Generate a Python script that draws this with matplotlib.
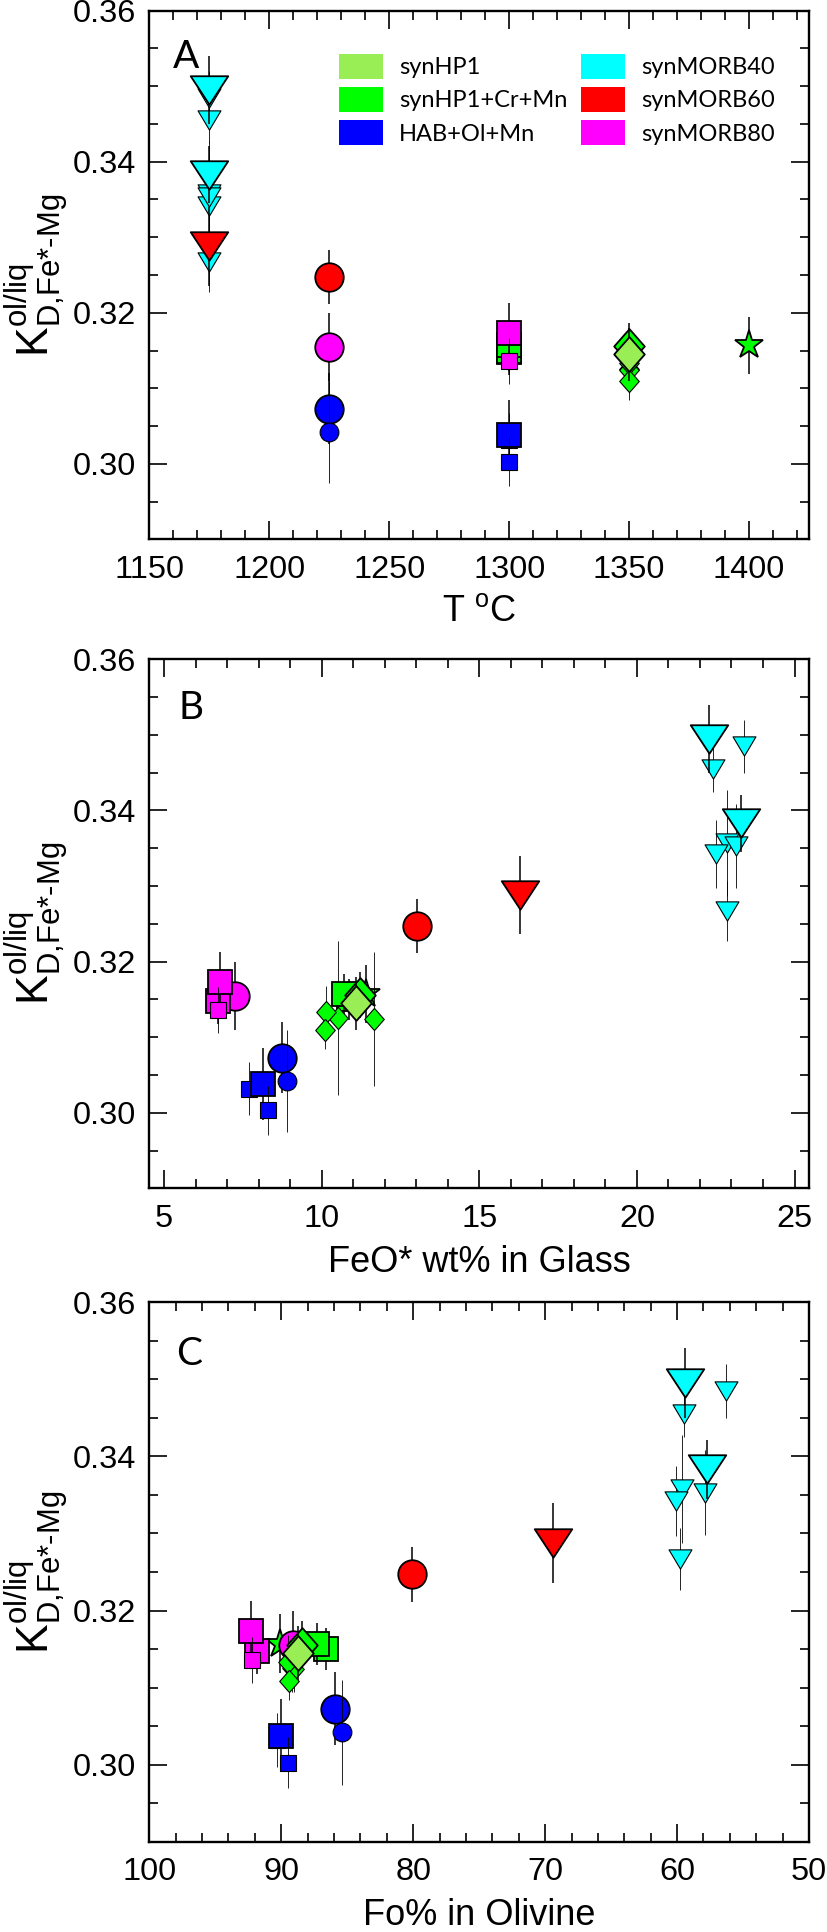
import matplotlib
matplotlib.use('Agg')
import matplotlib.pyplot as plt
from matplotlib.path import Path
from matplotlib.patches import Patch
from matplotlib.ticker import MultipleLocator

plt.rcParams['font.family'] = ['Liberation Sans', 'DejaVu Sans']
plt.rcParams['mathtext.fontset'] = 'custom'
plt.rcParams['mathtext.rm'] = 'Liberation Sans'
plt.rcParams['mathtext.it'] = 'Liberation Sans:italic'
plt.rcParams['mathtext.bf'] = 'Liberation Sans:bold'

# ---------------- data ----------------
legend_labels_col1 = ['synHP1', 'synHP1+Cr+Mn', 'HAB+Ol+Mn']
legend_labels_col2 = ['synMORB40', 'synMORB60', 'synMORB80']
color_hp1 = '#99EE55'
color_hp1crmn = '#00FF00'
color_hab = '#0000FF'
color_m40 = '#00FFFF'
color_m60 = '#FF0000'
color_m80 = '#FF00FF'

# synMORB40
m40_T = [1175, 1175, 1175, 1175, 1175, 1175, 1175, 1175]
m40_feo = [22.4, 23.4, 22.85, 22.5, 23.15, 22.85, 22.3, 23.3]
m40_fo = [59.5, 56.3, 59.6, 60.1, 57.9, 59.8, 59.4, 57.7]
m40_kd = [0.3455, 0.3485, 0.3357, 0.3342, 0.3353, 0.3267, 0.3495, 0.3383]
m40_err = [0.0030, 0.0035, 0.0070, 0.0045, 0.0055, 0.0040, 0.0045, 0.0038]
m40_err_glass = m40_err

# synMORB60
m60_T = [1175, 1225]
m60_feo = [16.3, 13.03]
m60_fo = [69.4, 80.1]
m60_kd = [0.3288, 0.3247]
m60_err = [0.0052, 0.0036]
m60_err_glass = m60_err

# HAB+Ol+Mn
hab_T = [1225, 1225, 1300, 1300, 1300]
hab_feo = [8.73, 8.9, 7.7, 8.13, 8.3]
hab_fo = [85.9, 85.4, 90.3, 90.0, 89.5]
hab_kd = [0.3073, 0.3042, 0.3032, 0.3038, 0.3003]
hab_err = [0.0047, 0.0068, 0.0035, 0.0047, 0.0033]
hab_err_glass = hab_err

# synHP1+Cr+Mn
crmn_T = [1400, 1300, 1300, 1350, 1350, 1350, 1350, 1350]
crmn_feo = [11.4, 10.85, 10.72, 10.52, 11.65, 10.15, 10.1, 11.2]
crmn_fo = [90.1, 86.6, 87.3, 89.2, 89.0, 89.5, 89.4, 88.4]
crmn_kd = [0.3157, 0.3150, 0.3157, 0.3125, 0.3124, 0.3133, 0.3109, 0.3156]
crmn_err = [0.0038, 0.0027, 0.0027, 0.0030, 0.0030, 0.0035, 0.0025, 0.0030]
crmn_err_glass = [0.0038, 0.0027, 0.0027, 0.0102, 0.0089, 0.0035, 0.0025, 0.0030]

# synHP1
hp1_T = [1350]
hp1_feo = [11.1]
hp1_fo = [88.7]
hp1_kd = [0.3145]
hp1_err = [0.0035]
hp1_err_glass = hp1_err

# synMORB80
m80_T = [1225, 1300, 1300, 1300]
m80_feo = [7.26, 6.7, 6.76, 6.72]
m80_fo = [89.1, 91.8, 92.3, 92.2]
m80_kd = [0.3155, 0.3148, 0.3173, 0.3136]
m80_err = [0.0045, 0.0030, 0.0040, 0.0030]
m80_err_glass = m80_err

# ---------------- styles ----------------
def tri_path(h):
    v = [(-1, h), (1, h), (0, -h), (-1, h)]
    return Path(v, closed=True)

def dia_path(w):
    v = [(0, 1), (w, 0), (0, -1), (-w, 0), (0, 1)]
    return Path(v, closed=True)

TRI_L = tri_path(0.76)
TRI_S = tri_path(0.84)
DIA = dia_path(0.88)

shape = {
    ('tri', 'L'): (TRI_L, 27), ('tri', 'S'): (TRI_S, 16.5),
    ('o', 'L'): ('o', 20.5), ('o', 'S'): ('o', 13.5),
    ('s', 'L'): ('s', 17.5), ('s', 'S'): ('s', 12),
    ('d', 'L'): (DIA, 25), ('d', 'S'): (DIA, 16),
    ('*', 'L'): ('*', 21),
}

series = [
    dict(T=m40_T, feo=m40_feo, fo=m40_fo, kd=m40_kd, err=m40_err, errg=m40_err_glass, color=color_m40,
         mk=['tri'] * 8, sz=['S'] * 6 + ['L'] * 2, layer=[1] * 6 + [2] * 2),
    dict(T=m60_T, feo=m60_feo, fo=m60_fo, kd=m60_kd, err=m60_err, errg=m60_err_glass, color=color_m60,
         mk=['tri', 'o'], sz=['L', 'L'], layer=[3, 3]),
    dict(T=hab_T, feo=hab_feo, fo=hab_fo, kd=hab_kd, err=hab_err, errg=hab_err_glass, color=color_hab,
         mk=['o', 'o', 's', 's', 's'], sz=['L', 'S', 'S', 'L', 'S'], layer=[3, 3.5, 3, 3.5, 4]),
    dict(T=crmn_T, feo=crmn_feo, fo=crmn_fo, kd=crmn_kd, err=crmn_err, errg=crmn_err_glass, color=color_hp1crmn,
         mk=['*', 's', 's', 'd', 'd', 'd', 'd', 'd'], sz=['L', 'L', 'L', 'S', 'S', 'S', 'S', 'L'],
         layer=[4, 6, 6.5, 6, 6, 6, 6, 7]),
    dict(T=m80_T, feo=m80_feo, fo=m80_fo, kd=m80_kd, err=m80_err, errg=m80_err_glass, color=color_m80,
         mk=['o', 's', 's', 's'], sz=['L', 'L', 'L', 'S'], layer=[5, 5, 9, 10]),
    dict(T=hp1_T, feo=hp1_feo, fo=hp1_fo, kd=hp1_kd, err=hp1_err, errg=hp1_err_glass, color=color_hp1,
         mk=['d'], sz=['L'], layer=[8]),
]

TICK_FS = 23.4
LABEL_FS = 26
YLABEL = r'$\mathregular{K^{ol/liq}_{\text{D,Fe*-Mg}}}$'

fig = plt.figure(figsize=(8.27, 19.32), dpi=100)
W, H = 827.0, 1932.0
def add_ax(top_px, bot_px):
    return fig.add_axes([149.3 / W, 1 - bot_px / H, (809 - 149.3) / W, (bot_px - top_px) / H])

axA = add_ax(10.7, 539.3)
axB = add_ax(659.3, 1188.3)
axC = add_ax(1302.0, 1842.0)

def plot_panel(ax, xkey, errkey):
    for s in series:
        for i in range(len(s['kd'])):
            m, ms = shape[(s['mk'][i], s['sz'][i])]
            big = s['sz'][i] == 'L'
            z = 2 + s['layer'][i]
            x = s[xkey][i]
            y = s['kd'][i]
            ax.errorbar([x], [y], yerr=[s[errkey][i]], fmt='none', ecolor='k',
                        elinewidth=1.1 if big else 0.6, capsize=0, zorder=z)
            ax.plot([x], [y], linestyle='none', marker=m, markersize=ms,
                    markerfacecolor=s['color'], markeredgecolor='k',
                    markeredgewidth=1.3 if big else 0.8, zorder=z + 0.3)

def style_axis(ax, xmaj, xmin):
    ax.set_ylim(0.29, 0.36)
    ax.yaxis.set_major_locator(MultipleLocator(0.02))
    ax.yaxis.set_minor_locator(MultipleLocator(0.005))
    ax.xaxis.set_major_locator(MultipleLocator(xmaj))
    ax.xaxis.set_minor_locator(MultipleLocator(xmin))
    ax.yaxis.set_major_formatter(plt.FormatStrFormatter('%.2f'))
    ax.tick_params(which='both', direction='in', top=True, right=True)
    ax.tick_params(which='major', length=12.7, width=1.2, labelsize=TICK_FS)
    ax.tick_params(which='minor', length=6.7, width=1.2)
    ax.tick_params(axis='x', which='major', pad=11)
    ax.tick_params(axis='y', which='major', pad=9.5)
    for sp in ax.spines.values():
        sp.set_linewidth(1.7)
    ax.set_ylabel(YLABEL, fontsize=32, labelpad=1)

# Panel A
plot_panel(axA, 'T', 'err')
axA.set_xlim(1150, 1425)
style_axis(axA, 50, 10)
axA.xaxis.set_major_formatter(plt.FormatStrFormatter('%d'))
axA.set_xlabel(r'T $\mathregular{^{o}}$C', fontsize=LABEL_FS, labelpad=7)
axA.text(0.0355, 0.8916, 'A', transform=axA.transAxes, fontsize=28, family=['Lato', 'DejaVu Sans'],
         va='baseline', ha='left')

h1 = [Patch(facecolor=c, edgecolor='none') for c in [color_hp1, color_hp1crmn, color_hab]]
h2 = [Patch(facecolor=c, edgecolor='none') for c in [color_m40, color_m60, color_m80]]
leg_kw = dict(frameon=False, borderpad=0, borderaxespad=0, loc='upper left',
              prop={'family': ['Lato', 'DejaVu Sans'], 'size': 17},
              handlelength=1.86, handleheight=1.23, labelspacing=0.36, handletextpad=0.68)
leg1 = axA.legend(h1, legend_labels_col1, bbox_to_anchor=(0.2876, 0.918), **leg_kw)
axA.add_artist(leg1)
axA.legend(h2, legend_labels_col2, bbox_to_anchor=(0.6544, 0.918), **leg_kw)

# Panel B
plot_panel(axB, 'feo', 'errg')
axB.set_xlim(4.53, 25.46)
style_axis(axB, 5, 1)
axB.xaxis.set_major_formatter(plt.FormatStrFormatter('%d'))
axB.set_xlabel('FeO* wt% in Glass', fontsize=LABEL_FS, labelpad=8)
axB.text(0.044, 0.8866, 'B', transform=axB.transAxes, fontsize=28, family=['Lato', 'DejaVu Sans'],
         va='baseline', ha='left')

# Panel C
plot_panel(axC, 'fo', 'err')
axC.set_xlim(100, 50)
style_axis(axC, 10, 2)
axC.xaxis.set_major_formatter(plt.FormatStrFormatter('%d'))
axC.set_xlabel('Fo% in Olivine', fontsize=LABEL_FS, labelpad=8)
axC.text(0.041, 0.883, 'C', transform=axC.transAxes, fontsize=28, family=['Lato', 'DejaVu Sans'],
         va='baseline', ha='left')

fig.savefig('out.png', dpi=100)
